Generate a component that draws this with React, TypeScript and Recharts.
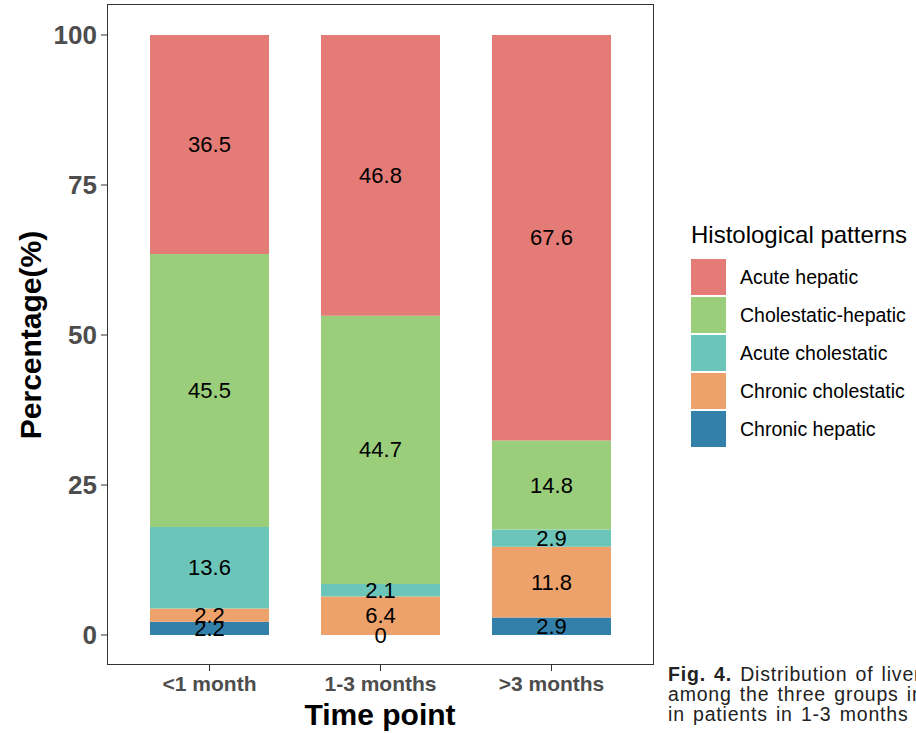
import { BarChart, Bar, XAxis, YAxis, ReferenceDot } from 'recharts'

// time point groups (x categories)
const timePoints = ['<1 month', '1-3 months', '>3 months']

// percentage of each histological pattern per group, bottom of the stack first
const chronicHepatic = [2.2, 0, 2.9]
const chronicCholestatic = [2.2, 6.4, 11.8]
const acuteCholestatic = [13.6, 2.1, 2.9]
const cholestaticHepatic = [45.5, 44.7, 14.8]
const acuteHepatic = [36.5, 46.8, 67.6]

const yTicks = [0, 25, 50, 75, 100]

const SERIES = [
  { key: 'chronicHepatic', name: 'Chronic hepatic', values: chronicHepatic, color: '#3381AB' },
  { key: 'chronicCholestatic', name: 'Chronic cholestatic', values: chronicCholestatic, color: '#EEA26B' },
  { key: 'acuteCholestatic', name: 'Acute cholestatic', values: acuteCholestatic, color: '#6CC5B9' },
  { key: 'cholestaticHepatic', name: 'Cholestatic-hepatic', values: cholestaticHepatic, color: '#9BCE7B' },
  { key: 'acuteHepatic', name: 'Acute hepatic', values: acuteHepatic, color: '#E47B76' },
]

const data = timePoints.map((t, i) => {
  const row: Record<string, string | number> = { time: t }
  SERIES.forEach((s) => {
    row[s.key] = s.values[i]
  })
  return row
})

// text labels sit in the middle of each stacked segment, drawn above all bars
// (like geom_text + position_stack(vjust = 0.5)), zero segments included
const segLabels = timePoints.flatMap((t, i) => {
  let base = 0
  return SERIES.map((s) => {
    const v = s.values[i]
    const mid = base + v / 2
    base += v
    return { id: `${s.key}-${i}`, time: t, mid, value: v }
  })
})

const FONT = 'Liberation Sans, Arial, Helvetica, sans-serif'

function YTitle(props: any) {
  const vb = props.viewBox || { x: 0, y: 0, height: 0 }
  const cx = 30
  const cy = vb.y + vb.height / 2
  return (
    <text
      x={cx}
      y={cy}
      transform={`rotate(-90 ${cx} ${cy})`}
      textAnchor="middle"
      dominantBaseline="central"
      fontFamily={FONT}
      fontWeight="bold"
      fontSize={30}
      fill="#000"
    >
      Percentage(%)
    </text>
  )
}

function SegText(props: any) {
  const vb = props.viewBox || { x: 0, y: 0, width: 0, height: 0 }
  return (
    <text
      x={vb.x + vb.width / 2}
      y={vb.y + vb.height / 2}
      textAnchor="middle"
      dominantBaseline="central"
      fontFamily={FONT}
      fontSize={22}
      fill="#000"
    >
      {props.text}
    </text>
  )
}

function LegendBox() {
  const items = [...SERIES].reverse()
  return (
    <div style={{ position: 'absolute', left: 691, top: 221, fontFamily: FONT, color: '#000' }}>
      <div style={{ fontSize: 24, lineHeight: '28px', marginBottom: 9, whiteSpace: 'nowrap' }}>
        Histological patterns
      </div>
      {items.map((s) => (
        <div key={s.key} style={{ display: 'flex', alignItems: 'center', height: 38 }}>
          <span
            style={{
              width: 35,
              height: 36,
              background: s.color,
              display: 'inline-block',
              marginRight: 14,
            }}
          />
          <span style={{ fontSize: 19.5, whiteSpace: 'nowrap' }}>{s.name}</span>
        </div>
      ))}
    </div>
  )
}

export default function App() {
  return (
    <div
      style={{
        position: 'absolute',
        left: 0,
        top: 0,
        width: 916,
        height: 733,
        overflow: 'hidden',
        background: '#fff',
      }}
    >
      <BarChart
        width={916}
        height={733}
        data={data}
        margin={{ top: 5, right: 263, left: 0, bottom: 0 }}
        barCategoryGap={0}
      >
        <XAxis
          dataKey="time"
          height={68}
          padding={{ left: 17, right: 16 }}
          axisLine={false}
          tickLine={{ stroke: '#333' }}
          tickSize={6}
          tickMargin={5}
          tick={{ fill: '#4D4D4D', fontSize: 21, fontWeight: 'bold', fontFamily: FONT }}
          label={{
            value: 'Time point',
            position: 'insideBottom',
            offset: 8,
            style: { fontSize: 30, fontWeight: 'bold', fill: '#000', fontFamily: FONT },
          }}
        />
        <YAxis
          width={107}
          domain={[-5, 105]}
          ticks={yTicks}
          allowDataOverflow
          axisLine={false}
          tickLine={{ stroke: '#333' }}
          tickSize={6}
          tickMargin={4}
          tick={{ fill: '#4D4D4D', fontSize: 26, fontWeight: 'bold', fontFamily: FONT }}
          label={<YTitle />}
        />
        {SERIES.map((s) => (
          <Bar
            key={s.key}
            dataKey={s.key}
            name={s.name}
            stackId="a"
            fill={s.color}
            barSize={119}
            isAnimationActive={false}
          />
        ))}
        {segLabels.map((l) => (
          <ReferenceDot
            key={l.id}
            x={l.time}
            y={l.mid}
            r={0}
            fill="none"
            stroke="none"
            label={<SegText text={String(l.value)} />}
          />
        ))}
      </BarChart>
      {/* panel border */}
      <div
        style={{
          position: 'absolute',
          left: 107,
          top: 4,
          width: 545,
          height: 659,
          border: '1px solid #333',
          pointerEvents: 'none',
        }}
      />
      <LegendBox />
      {/* figure caption, cut off by the right edge as in the source page */}
      <div
        style={{
          position: 'absolute',
          left: 668,
          top: 664,
          width: 600,
          fontFamily: FONT,
          fontSize: 19.5,
          lineHeight: '20px',
          letterSpacing: 0.8,
          wordSpacing: 2,
          color: '#222',
          whiteSpace: 'nowrap',
        }}
      >
        <div>
          <b>Fig. 4.</b> Distribution of liver histological patterns
        </div>
        <div>among the three groups in different time points</div>
        <div>in patients in 1-3 months group</div>
      </div>
    </div>
  )
}
